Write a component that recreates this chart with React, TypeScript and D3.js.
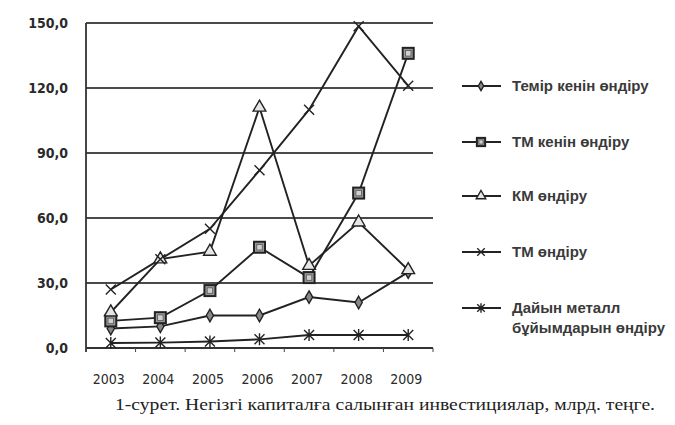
import React, { useEffect, useRef } from "react";
import * as d3 from "d3";

const years = ["2003", "2004", "2005", "2006", "2007", "2008", "2009"];
const yTicks = [0, 30, 60, 90, 120, 150];

const ironOre = [9, 10, 15, 15, 23.5, 21, 35];
const hmOre = [12.5, 14, 26.5, 46.5, 32.5, 71.5, 136];
const cmProd = [16.5, 41, 44.5, 111, 38, 58, 36];
const hmProd = [27, 41, 55, 82, 110, 148.5, 121];
const metalGoods = [2.3, 2.5, 3, 4, 6, 6, 6];

const seriesNames = [
  "Темір кенін өндіру",
  "ТМ кенін өндіру",
  "КМ өндіру",
  "ТМ өндіру",
  "Дайын металл\nбұйымдарын өндіру",
];
const markerKinds = ["diamond", "square", "triangle", "cross", "star"];
const seriesValues = [ironOre, hmOre, cmProd, hmProd, metalGoods];

const caption = "1-сурет. Негізгі капиталға салынған инвестициялар, млрд. теңге.";

const ink = "#222";

function drawMarker(g: any, kind: string, x: number, y: number, k = 1) {
  if (kind === "diamond") {
    g.append("path")
      .attr("d", d3.symbol(d3.symbolDiamond, 45 * k * k)())
      .attr("transform", `translate(${x},${y})`)
      .attr("fill", "#888")
      .attr("stroke", ink)
      .attr("stroke-width", 1.4);
  } else if (kind === "square") {
    const h = 5.5 * k;
    g.append("rect")
      .attr("x", x - h)
      .attr("y", y - h)
      .attr("width", 2 * h)
      .attr("height", 2 * h)
      .attr("fill", "#9a9a9a")
      .attr("stroke", ink)
      .attr("stroke-width", 2);
    g.append("rect")
      .attr("x", x - h / 2)
      .attr("y", y - h / 2)
      .attr("width", h)
      .attr("height", h)
      .attr("fill", "#d0d0d0")
      .attr("stroke", "#555")
      .attr("stroke-width", 0.8);
  } else if (kind === "triangle") {
    g.append("path")
      .attr("d", d3.symbol(d3.symbolTriangle, 70 * k * k)())
      .attr("transform", `translate(${x},${y})`)
      .attr("fill", "#e6e6e6")
      .attr("stroke", ink)
      .attr("stroke-width", 1.4);
  } else {
    const r = 5 * k;
    const p = d3.path();
    p.moveTo(x - r, y - r);
    p.lineTo(x + r, y + r);
    p.moveTo(x - r, y + r);
    p.lineTo(x + r, y - r);
    if (kind === "star") {
      p.moveTo(x, y - r - 1);
      p.lineTo(x, y + r + 1);
    }
    g.append("path")
      .attr("d", p.toString())
      .attr("stroke", ink)
      .attr("stroke-width", 1.4)
      .attr("fill", "none");
  }
}

const App = () => {
  const svgRef = useRef<SVGSVGElement>(null);

  useEffect(() => {
    const svg = d3.select(svgRef.current);
    svg.selectAll("*").remove();

    const left = 86;
    const right = 433;
    const top = 23;
    const bottom = 348;

    const xScale = d3.scaleBand().domain(years).range([left, right]);
    const yScale = d3.scaleLinear().domain([0, 150]).range([bottom, top]);

    svg.append("rect").attr("width", 675).attr("height", 425).attr("fill", "#fff");

    // grid
    const grid = svg.append("g");
    yTicks.forEach((t) => {
      grid
        .append("line")
        .attr("x1", left)
        .attr("x2", right)
        .attr("y1", yScale(t))
        .attr("y2", yScale(t))
        .attr("stroke", t === 0 ? "#333" : "#4a4a4a")
        .attr("stroke-width", 2);
      grid
        .append("text")
        .attr("x", 68)
        .attr("y", yScale(t))
        .attr("dy", "0.35em")
        .attr("text-anchor", "end")
        .attr("font-family", "'DejaVu Sans Condensed', 'Liberation Sans', sans-serif")
        .attr("font-size", 14)
        .attr("font-weight", "bold")
        .attr("fill", "#2a2a2a")
        .text(d3.format(".1f")(t).replace(".", ","));
    });

    // y axis
    svg
      .append("line")
      .attr("x1", left)
      .attr("x2", left)
      .attr("y1", top)
      .attr("y2", bottom + 4)
      .attr("stroke", "#333")
      .attr("stroke-width", 1.8);

    // x ticks & labels
    const xg = svg.append("g");
    years.forEach((yr, i) => {
      const bx = xScale(yr)!;
      xg.append("line")
        .attr("x1", bx)
        .attr("x2", bx)
        .attr("y1", bottom)
        .attr("y2", bottom + 4)
        .attr("stroke", "#444");
      xg.append("text")
        .attr("x", bx + xScale.bandwidth() / 2 - 2)
        .attr("y", 384)
        .attr("text-anchor", "middle")
        .attr("font-family", "'DejaVu Sans Condensed', 'Liberation Sans', sans-serif")
        .attr("font-size", 14)
        .attr("fill", "#2a2a2a")
        .text(yr);
      if (i === years.length - 1) {
        xg.append("line")
          .attr("x1", right)
          .attr("x2", right)
          .attr("y1", bottom)
          .attr("y2", bottom + 4)
          .attr("stroke", "#444");
      }
    });

    const line = d3
      .line<number>()
      .x((_, i) => xScale(years[i])! + xScale.bandwidth() / 2)
      .y((d) => yScale(d));

    const plot = svg.append("g");
    seriesValues.forEach((vals) => {
      plot
        .append("path")
        .attr("d", line(vals))
        .attr("fill", "none")
        .attr("stroke", ink)
        .attr("stroke-width", 1.9);
    });
    seriesValues.forEach((vals, s) => {
      vals.forEach((v, i) => {
        drawMarker(plot, markerKinds[s], xScale(years[i])! + xScale.bandwidth() / 2, yScale(v));
      });
    });

    // legend
    const legendY = [86, 142, 196, 252, 308];
    const lg = svg.append("g");
    seriesNames.forEach((name, s) => {
      const y = legendY[s];
      lg.append("line")
        .attr("x1", 462)
        .attr("x2", 501)
        .attr("y1", y)
        .attr("y2", y)
        .attr("stroke", ink)
        .attr("stroke-width", 2);
      drawMarker(lg, markerKinds[s], 481, y, 0.75);
      name.split("\n").forEach((ln, k) => {
        lg.append("text")
          .attr("x", 512)
          .attr("y", y + k * 20)
          .attr("dy", "0.35em")
          .attr("font-family", "'Liberation Sans', Arial, sans-serif")
          .attr("font-size", 15)
          .attr("font-weight", "bold")
          .attr("fill", "#3a3a3a")
          .text(ln);
      });
    });

    svg
      .append("text")
      .attr("x", 385)
      .attr("y", 410)
      .attr("text-anchor", "middle")
      .attr("font-family", "'Liberation Serif', 'Times New Roman', serif")
      .attr("font-size", 17)
      .attr("textLength", 540)
      .attr("lengthAdjust", "spacingAndGlyphs")
      .attr("fill", "#222")
      .text(caption);
  }, []);

  return (
    <div>
      <svg
        ref={svgRef}
        width={675}
        height={425}
        style={{ position: "absolute", left: 0, top: 0 }}
      ></svg>
    </div>
  );
};

export default App;
